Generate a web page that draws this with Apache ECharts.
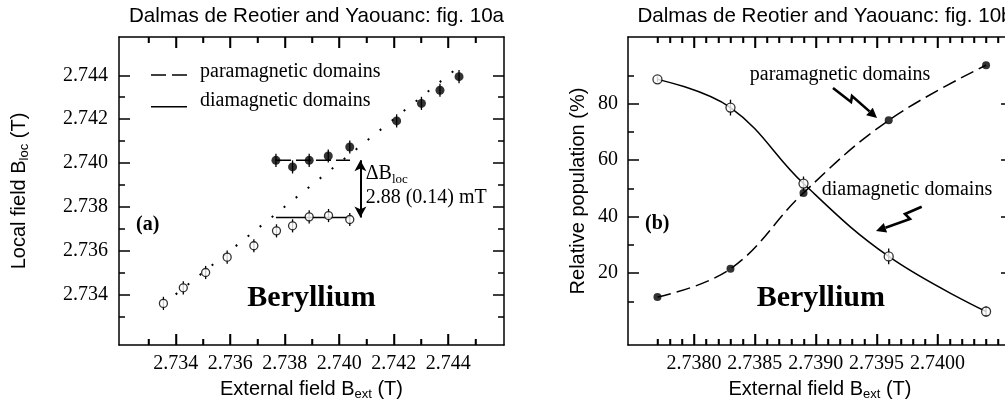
<!DOCTYPE html>
<html>
<head>
<meta charset="utf-8">
<script src="https://cdn.jsdelivr.net/npm/echarts@6/dist/echarts.min.js"></script>
<style>
    html, body { margin: 0; padding: 0; background: #fff; }
    #main { width: 1005px; height: 406px; }
</style>
</head>
<body>
<div id="main"></div>
<script type="text/javascript">
    // fig. 10a : local field vs external field (T)
    var bExtDia = [2.73355, 2.73428, 2.7351, 2.73589, 2.73687, 2.7377, 2.73829, 2.7389, 2.73961, 2.74039];
    var bLocDia = [2.73359, 2.7343, 2.735, 2.7357, 2.73622, 2.7369, 2.73713, 2.73754, 2.7376, 2.73742];
    var errDia = [0.0003, 0.0003, 0.0003, 0.0003, 0.0003, 0.0003, 0.0003, 0.0003, 0.0003, 0.0003];
    var bExtPara = [2.73768, 2.73829, 2.7389, 2.7396, 2.74039, 2.74211, 2.74302, 2.7437, 2.7444];
    var bLocPara = [2.74012, 2.73982, 2.74012, 2.74032, 2.74073, 2.74192, 2.74272, 2.74332, 2.74394];
    var errPara = [0.0003, 0.0003, 0.0003, 0.0003, 0.0003, 0.0003, 0.0003, 0.0003, 0.0003];
    var diagonal = [2.7340, 2.7442];                 // dotted B_loc = B_ext line
    var paraLevel = [2.73768, 2.7404, 2.74012];      // x from, x to, level
    var diaLevel = [2.73768, 2.7404, 2.73751];
    var deltaArrow = [2.74078, 2.74012, 2.73751];    // x, top, bottom
    var ticksA = [2.734, 2.736, 2.738, 2.740, 2.742, 2.744];
    var minorXA = [2.733, 2.735, 2.737, 2.739, 2.741, 2.743, 2.745];
    var minorYA = [2.733, 2.735, 2.737, 2.739, 2.741, 2.743];

    // fig. 10b : relative population (%)
    var bExtPop = [2.7377, 2.7383, 2.7389, 2.7396, 2.7404];
    var popDia = [88.6, 78.6, 51.7, 25.9, 6.4];
    var popDiaErr = [1, 2.8, 2.5, 2.8, 1.8];
    var popPara = [11.5, 21.5, 48.4, 74.1, 93.6];
    var ticksXB = [2.7380, 2.7385, 2.7390, 2.7395, 2.7400];
    var minorXB = [2.7377, 2.7378, 2.7379, 2.7381, 2.7382, 2.7383, 2.7384, 2.7386, 2.7387, 2.7388, 2.7389,
        2.7391, 2.7392, 2.7393, 2.7394, 2.7396, 2.7397, 2.7398, 2.7399, 2.7401, 2.7402, 2.7403, 2.7404, 2.7405];
    var ticksYB = [20, 40, 60, 80];
    var minorYB = [10, 30, 50, 70, 90];

    var serif = 'Liberation Serif';
    var sans = 'Liberation Sans';
    var xRangeA = [2.73192, 2.74605];
    var yRangeA = [2.73169, 2.74575];
    var xRangeB = [2.737458, 2.740613];
    var yRangeB = [-5.46, 103.6];

    function axisPair(grid, pos, range, majors, minors, labelFmt, labelMargin) {
        var major = {
            type: 'value', gridIndex: grid, position: pos, min: range[0], max: range[1],
            axisLine: { show: true, onZero: false, lineStyle: { color: '#000', width: 1.5 } },
            axisTick: { show: true, inside: true, length: 11, customValues: majors, lineStyle: { color: '#000', width: 1.5 } },
            axisLabel: {
                show: !!labelFmt, customValues: majors, formatter: labelFmt, margin: labelMargin,
                color: '#000', fontFamily: serif, fontSize: 20
            },
            splitLine: { show: false }
        };
        var minor = {
            type: 'value', gridIndex: grid, position: pos, min: range[0], max: range[1],
            axisLine: { show: false, onZero: false },
            axisTick: { show: true, inside: true, length: 6, customValues: minors, lineStyle: { color: '#000', width: 1.5 } },
            axisLabel: { show: false },
            splitLine: { show: false }
        };
        return [major, minor];
    }

    function zip(xs, ys, es) {
        return xs.map(function (x, i) { return es ? [x, ys[i], es[i]] : [x, ys[i]]; });
    }

    function errorSeries(ai, xs, ys, es) {
        return {
            type: 'custom', xAxisIndex: ai, yAxisIndex: ai, z: 2, silent: true,
            data: zip(xs, ys, es),
            renderItem: function (params, api) {
                var lo = api.coord([api.value(0), api.value(1) - api.value(2)]);
                var hi = api.coord([api.value(0), api.value(1) + api.value(2)]);
                return {
                    type: 'line',
                    shape: { x1: lo[0], y1: lo[1], x2: hi[0], y2: hi[1] },
                    style: { stroke: '#000', lineWidth: 1.3 }
                };
            }
        };
    }

    // x ticks on the bottom and top frame, placed through the axis scale (backs up the axis ticks)
    function xTickSeries(ai, values, yRange, len) {
        return {
            type: 'custom', xAxisIndex: ai, yAxisIndex: ai, z: 100, silent: true, clip: false,
            data: values.map(function (v) { return [v, yRange[0]]; }),
            renderItem: function (params, api) {
                var b = api.coord([api.value(0), yRange[0]]);
                var t = api.coord([api.value(0), yRange[1]]);
                var x = Math.round(b[0]) + 0.5;
                var st = { stroke: '#000', lineWidth: 1.5 };
                return {
                    type: 'group',
                    children: [
                        { type: 'line', shape: { x1: x, y1: b[1], x2: x, y2: b[1] - len }, style: st },
                        { type: 'line', shape: { x1: x, y1: t[1], x2: x, y2: t[1] + len }, style: st }
                    ]
                };
            }
        };
    }

    function richName(main, sub, tail) {
        return '{n|' + main + '}{s|' + sub + '}{n|' + tail + '}';
    }
    var nameRich = {
        n: { fontFamily: sans, fontSize: 20, color: '#000', lineHeight: 24 },
        s: { fontFamily: sans, fontSize: 13, color: '#000', lineHeight: 14, verticalAlign: 'bottom' }
    };

    // zigzag ("lightning") arrow made of a polyline and a head
    function zigzag(pts, tip) {
        var last = pts[pts.length - 1];
        var dx = tip[0] - last[0], dy = tip[1] - last[1];
        var len = Math.sqrt(dx * dx + dy * dy);
        dx /= len; dy /= len;
        var bx = tip[0] - dx * 10, by = tip[1] - dy * 10;
        return [
            { type: 'polyline', shape: { points: pts.concat([[bx, by]]) }, style: { stroke: '#000', lineWidth: 2.6, fill: null } },
            { type: 'polygon', shape: { points: [tip, [bx - dy * 5, by + dx * 5], [bx + dy * 5, by - dx * 5]] }, style: { fill: '#000' } }
        ];
    }

    var fmtA = function (v) { return v.toFixed(3); };
    var fmtXB = function (v) { return v.toFixed(4); };
    var fmtYB = function (v) { return String(Math.round(v)); };

    var xA = axisPair(0, 'bottom', xRangeA, ticksA, minorXA, fmtA, 9);
    var xAt = axisPair(0, 'top', xRangeA, ticksA, minorXA, null, 0);
    var yA = axisPair(0, 'left', yRangeA, ticksA, minorYA, fmtA, 11);
    var yAr = axisPair(0, 'right', yRangeA, ticksA, minorYA, null, 0);
    var xB = axisPair(1, 'bottom', xRangeB, ticksXB, minorXB, fmtXB, 9);
    var xBt = axisPair(1, 'top', xRangeB, ticksXB, minorXB, null, 0);
    var yB = axisPair(1, 'left', yRangeB, ticksYB, minorYB, fmtYB, 10);
    var yBr = axisPair(1, 'right', yRangeB, ticksYB, minorYB, null, 0);

    xA[0].name = richName('External field B', 'ext', ' (T)');
    xB[0].name = richName('External field B', 'ext', ' (T)');
    yA[0].name = richName('Local field B', 'loc', ' (T)');
    yB[0].name = '{n|Relative population (%)}';
    [xA[0], xB[0], yA[0], yB[0]].forEach(function (a) {
        a.nameLocation = 'middle';
        a.nameTextStyle = { rich: nameRich };
    });
    xA[0].nameGap = 32;
    xB[0].nameGap = 32;
    yA[0].nameGap = 88;
    yB[0].nameGap = 38;

    var titleStyle = { fontFamily: sans, fontSize: 20.6, fontWeight: 'normal', color: '#000' };

    var option = {
        animation: false,
        backgroundColor: '#fff',
        title: [
            { text: 'Dalmas de Reotier and Yaouanc: fig. 10a', left: 311.5, top: 1, textAlign: 'center', textStyle: titleStyle },
            { text: 'Dalmas de Reotier and Yaouanc: fig. 10b', left: 820, top: 1, textAlign: 'center', textStyle: titleStyle }
        ],
        grid: [
            { left: 119, top: 37, width: 385, height: 308, containLabel: false, outerBoundsMode: 'none' },
            { left: 628, top: 37, width: 384, height: 308, containLabel: false, outerBoundsMode: 'none' }
        ],
        xAxis: xA.concat(xAt, xB, xBt),
        yAxis: yA.concat(yAr, yB, yBr),
        graphic: [
            // legend of fig. 10a
            { type: 'line', shape: { x1: 151, y1: 75, x2: 187, y2: 75 }, style: { stroke: '#000', lineWidth: 1.5, lineDash: [15, 6] } },
            { type: 'text', x: 200, y: 71.6, style: { text: 'paramagnetic domains', font: '20px "Liberation Serif"', fill: '#000', verticalAlign: 'middle' } },
            { type: 'line', shape: { x1: 151, y1: 106.7, x2: 187, y2: 106.7 }, style: { stroke: '#000', lineWidth: 1.5 } },
            { type: 'text', x: 200, y: 100.6, style: { text: 'diamagnetic domains', font: '20px "Liberation Serif"', fill: '#000', verticalAlign: 'middle' } },
            // delta B label
            { type: 'text', x: 365.7, y: 174, style: {
                text: '{n|ΔB}{s|loc}', verticalAlign: 'middle',
                rich: {
                    n: { fontFamily: serif, fontSize: 20, color: '#000', lineHeight: 24 },
                    s: { fontFamily: serif, fontSize: 13, color: '#000', lineHeight: 14, verticalAlign: 'bottom' }
                } } },
            { type: 'text', x: 365.7, y: 198, style: { text: '2.88 (0.14) mT', font: '20px "Liberation Serif"', fill: '#000', verticalAlign: 'middle' } },
            { type: 'text', x: 136, y: 225, style: { text: '(a)', font: 'bold 20px "Liberation Serif"', fill: '#000', verticalAlign: 'middle' } },
            { type: 'text', x: 311.5, y: 298.2, style: { text: 'Beryllium', font: 'bold 30px "Liberation Serif"', fill: '#000', align: 'center', verticalAlign: 'middle' } },
            // fig. 10b labels
            { type: 'text', x: 840, y: 75, style: { text: 'paramagnetic domains', font: '20px "Liberation Serif"', fill: '#000', align: 'center', verticalAlign: 'middle' } },
            { type: 'text', x: 821.7, y: 190, style: { text: 'diamagnetic domains', font: '20px "Liberation Serif"', fill: '#000', verticalAlign: 'middle' } },
            { type: 'text', x: 645, y: 224, style: { text: '(b)', font: 'bold 20px "Liberation Serif"', fill: '#000', verticalAlign: 'middle' } },
            { type: 'text', x: 820.8, y: 298.2, style: { text: 'Beryllium', font: 'bold 30px "Liberation Serif"', fill: '#000', align: 'center', verticalAlign: 'middle' } }
        ].concat(
            zigzag([[833, 88], [851, 102], [852, 96]], [877, 118]),
            zigzag([[921.7, 206.7], [905, 214], [910, 219]], [876, 231])
        ),
        series: [
            // fig. 10a
            xTickSeries(0, ticksA, yRangeA, 11),
            xTickSeries(0, minorXA, yRangeA, 6),
            {
                type: 'line', xAxisIndex: 0, yAxisIndex: 0, symbol: 'none', silent: true,
                data: [[diagonal[0], diagonal[0]], [diagonal[1], diagonal[1]]],
                lineStyle: { color: '#000', width: 2, type: [2, 13.4] }
            },
            {
                type: 'line', xAxisIndex: 0, yAxisIndex: 0, symbol: 'none', silent: true,
                data: [[paraLevel[0], paraLevel[2]], [paraLevel[1], paraLevel[2]]],
                lineStyle: { color: '#000', width: 1.5, type: [15, 5] }
            },
            {
                type: 'line', xAxisIndex: 0, yAxisIndex: 0, symbol: 'none', silent: true,
                data: [[diaLevel[0], diaLevel[2]], [diaLevel[1], diaLevel[2]]],
                lineStyle: { color: '#000', width: 1.5 },
                markLine: {
                    silent: true, symbol: ['arrow', 'arrow'], symbolSize: [9, 11],
                    label: { show: false },
                    lineStyle: { color: '#000', width: 2, type: 'solid' },
                    data: [[{ coord: [deltaArrow[0], deltaArrow[1]] }, { coord: [deltaArrow[0], deltaArrow[2]] }]]
                }
            },
            errorSeries(0, bExtDia, bLocDia, errDia),
            errorSeries(0, bExtPara, bLocPara, errPara),
            {
                type: 'scatter', xAxisIndex: 0, yAxisIndex: 0, symbol: 'circle', symbolSize: 8, z: 3,
                data: zip(bExtDia, bLocDia),
                itemStyle: { color: '#fff', borderColor: '#000', borderWidth: 1.3 }
            },
            {
                type: 'scatter', xAxisIndex: 0, yAxisIndex: 0, symbol: 'circle', symbolSize: 9, z: 3,
                data: zip(bExtPara, bLocPara),
                itemStyle: { color: '#000' }
            },
            // fig. 10b
            xTickSeries(4, ticksXB, yRangeB, 11),
            xTickSeries(4, minorXB, yRangeB, 6),
            {
                type: 'line', xAxisIndex: 4, yAxisIndex: 4, symbol: 'none', smooth: 0.4,
                data: zip(bExtPop, popDia),
                lineStyle: { color: '#000', width: 1.5 }
            },
            {
                type: 'line', xAxisIndex: 4, yAxisIndex: 4, symbol: 'none', smooth: 0.4,
                data: zip(bExtPop, popPara),
                lineStyle: { color: '#000', width: 1.5, type: [14, 6] }
            },
            errorSeries(4, bExtPop, popDia, popDiaErr),
            {
                type: 'scatter', xAxisIndex: 4, yAxisIndex: 4, symbol: 'circle', symbolSize: 9, z: 3,
                data: zip(bExtPop, popDia),
                itemStyle: { color: '#fff', borderColor: '#000', borderWidth: 1.3 }
            },
            {
                type: 'scatter', xAxisIndex: 4, yAxisIndex: 4, symbol: 'circle', symbolSize: 8, z: 3,
                data: zip(bExtPop, popPara),
                itemStyle: { color: '#000' }
            }
        ]
    };

    var chart = echarts.init(document.getElementById('main'));
    chart.setOption(option);
</script>
</body>
</html>
